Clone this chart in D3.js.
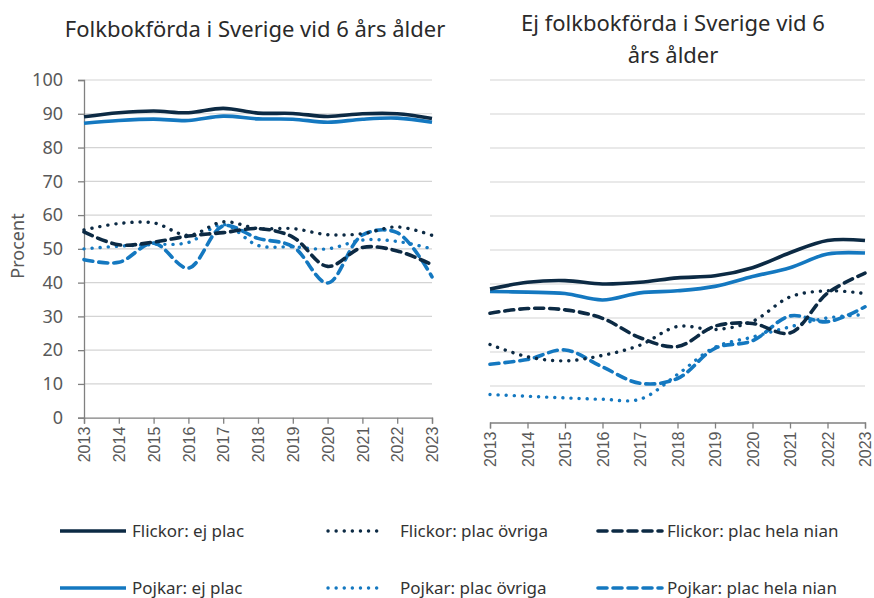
<!DOCTYPE html>
<html>
<head>
<meta charset="utf-8">
<script src="https://cdn.jsdelivr.net/npm/d3@7"></script>
<style>
  body { margin: 0; background: #fff; }
  text { font-family: "Noto Sans", "Open Sans", sans-serif; }
</style>
</head>
<body>
<div id="chart"></div>
<script>
// years on the x axis
var years = [2013, 2014, 2015, 2016, 2017, 2018, 2019, 2020, 2021, 2022, 2023];
var yTicks = [0, 10, 20, 30, 40, 50, 60, 70, 80, 90, 100];

// left panel: folkbokförda vid 6 års ålder
var leftFlickorEj   = [89.1, 90.3, 90.8, 90.3, 91.6, 90.2, 90.1, 89.2, 90.0, 90.0, 88.6];
var leftPojkarEj    = [87.2, 88.0, 88.4, 88.0, 89.3, 88.5, 88.4, 87.5, 88.4, 88.7, 87.5];
var leftFlickorOvr  = [55.6, 57.5, 57.7, 54.0, 58.0, 56.0, 56.0, 54.2, 54.5, 56.5, 54.0];
var leftFlickorHela = [55.0, 51.2, 52.0, 53.8, 54.8, 56.0, 53.5, 44.8, 50.4, 49.4, 45.3];
var leftPojkarOvr   = [50.0, 50.8, 51.3, 51.9, 57.2, 51.0, 50.6, 50.0, 52.6, 52.2, 50.0];
var leftPojkarHela  = [46.8, 46.0, 51.7, 44.3, 56.8, 53.1, 50.7, 39.9, 54.1, 54.8, 41.7];

// right panel: ej folkbokförda vid 6 års ålder
var rightFlickorEj   = [38.5, 40.5, 41.0, 40.0, 40.5, 41.8, 42.4, 44.8, 49.2, 52.8, 52.8];
var rightPojkarEj    = [37.8, 37.6, 37.2, 35.3, 37.4, 38.0, 39.3, 42.2, 44.8, 48.8, 49.1];
var rightFlickorOvr  = [22.2, 18.6, 17.4, 19.0, 22.0, 27.5, 26.6, 29.0, 36.2, 38.0, 37.2];
var rightFlickorHela = [31.4, 32.8, 32.4, 29.9, 24.2, 21.6, 27.6, 28.4, 25.6, 37.3, 43.2];
var rightPojkarOvr   = [7.5, 7.0, 6.5, 6.1, 6.1, 13.4, 21.4, 24.4, 27.4, 30.0, 31.0];
var rightPojkarHela  = [16.4, 17.8, 20.6, 15.6, 10.8, 12.2, 21.1, 23.3, 30.6, 28.9, 33.3];

var seriesNames = ["Flickor: ej plac", "Flickor: plac övriga", "Flickor: plac hela nian",
                   "Pojkar: ej plac", "Pojkar: plac övriga", "Pojkar: plac hela nian"];

var dark = "#0c2a44";
var blue = "#1478c0";
var styles = [
  { color: dark, dash: null, w: 3.6 },
  { color: dark, dash: "0.1 8", w: 3.4 },
  { color: dark, dash: "9 6", w: 3.6 },
  { color: blue, dash: null, w: 3.6 },
  { color: blue, dash: "0.1 8", w: 3.4 },
  { color: blue, dash: "9 6", w: 3.6 }
];

var svgWidth = 874, svgHeight = 598;
var svg = d3.select("#chart").append("svg")
  .attr("width", svgWidth)
  .attr("height", svgHeight);

var panels = [
  { x0: 84, x1: 432, y0: 417.7, y1: 80, axisY: 417.7, yAxis: true,
    data: [leftFlickorEj, leftFlickorOvr, leftFlickorHela, leftPojkarEj, leftPojkarOvr, leftPojkarHela] },
  { x0: 490, x1: 865, y0: 420, y1: 80, axisY: 422.5, yAxis: false,
    data: [rightFlickorEj, rightFlickorOvr, rightFlickorHela, rightPojkarEj, rightPojkarOvr, rightPojkarHela] }
];

panels.forEach(function(p) {
  var xscale = d3.scaleLinear().domain([2013, 2023]).range([p.x0, p.x1]);
  var yscale = d3.scaleLinear().domain([0, 100]).range([p.y0, p.y1]);
  var g = svg.append("g");

  // gridlines
  g.selectAll(".grid").data(yTicks.filter(d => d > 0)).enter()
    .append("line")
    .attr("x1", p.x0).attr("x2", p.x1)
    .attr("y1", d => yscale(d)).attr("y2", d => yscale(d))
    .attr("stroke", "#d4d4d4").attr("stroke-width", 1.2);

  // x axis
  var xAxis = d3.axisBottom(xscale).tickValues(years).tickFormat(d3.format("d")).tickSize(6);
  var xg = g.append("g").attr("transform", `translate(0, ${p.axisY})`).call(xAxis);
  xg.select(".domain").attr("stroke", "#808080").attr("stroke-width", 1.3);
  xg.selectAll(".tick line").attr("stroke", "#808080").attr("stroke-width", 1.3);
  xg.selectAll(".tick text")
    .attr("transform", "rotate(-90)")
    .attr("text-anchor", "end")
    .attr("x", -9).attr("y", 0).attr("dy", "0.35em")
    .style("font-family", "'Liberation Sans', Arial, sans-serif")
    .style("font-size", "16px")
    .attr("fill", "#595959");

  if (p.yAxis) {
    var yAxis = d3.axisLeft(yscale).tickValues(yTicks).tickSize(6);
    var yg = g.append("g").attr("transform", `translate(${p.x0}, 0)`).call(yAxis);
    yg.select(".domain").attr("stroke", "#808080").attr("stroke-width", 1.3);
    yg.selectAll(".tick line").attr("stroke", "#808080").attr("stroke-width", 1.3);
    yg.selectAll(".tick text")
      .attr("x", -21)
      .style("font-family", "'Noto Sans', sans-serif")
      .style("font-size", "18px")
      .attr("fill", "#595959");
  }

  var line = d3.line()
    .x((d, i) => xscale(years[i]))
    .y(d => yscale(d))
    .curve(d3.curveCatmullRom.alpha(0.5));

  // draw in an order so the solid lines sit on top
  [5, 4, 2, 1, 3, 0].forEach(function(k) {
    g.append("path")
      .attr("d", line(p.data[k]))
      .attr("fill", "none")
      .attr("stroke", styles[k].color)
      .attr("stroke-width", styles[k].w)
      .attr("stroke-linecap", styles[k].dash ? "round" : "butt")
      .attr("stroke-dasharray", styles[k].dash);
  });
});

// titles
svg.append("text").attr("x", 255).attr("y", 37)
  .attr("text-anchor", "middle").style("font-size", "22px").attr("fill", "#2a2a2a")
  .text("Folkbokförda i Sverige vid 6 års ålder");
svg.append("text").attr("x", 673).attr("y", 31)
  .attr("text-anchor", "middle").style("font-size", "22px").attr("fill", "#2a2a2a")
  .text("Ej folkbokförda i Sverige vid 6");
svg.append("text").attr("x", 673).attr("y", 63)
  .attr("text-anchor", "middle").style("font-size", "22px").attr("fill", "#2a2a2a")
  .text("års ålder");

// y axis label
svg.append("text")
  .attr("transform", "rotate(-90)")
  .attr("x", -246).attr("y", 24)
  .attr("text-anchor", "middle")
  .style("font-size", "18px").attr("fill", "#595959")
  .text("Procent");

// legend
var legendX = [60, 326, 596];
var legendTextX = [132, 400, 667];
var legendY = [531, 588];
seriesNames.forEach(function(name, i) {
  var col = i % 3, row = Math.floor(i / 3);
  var lg = svg.append("g");
  lg.append("line")
    .attr("x1", legendX[col] + (col == 0 ? 0 : 2)).attr("x2", legendX[col] + (col == 1 ? 56 : 66))
    .attr("y1", legendY[row]).attr("y2", legendY[row])
    .attr("stroke", styles[i].color)
    .attr("stroke-width", styles[i].w)
    .attr("stroke-linecap", styles[i].dash ? "round" : "butt")
    .attr("stroke-dasharray", styles[i].dash);
  lg.append("text")
    .attr("x", legendTextX[col]).attr("y", legendY[row]).attr("dy", "0.35em")
    .style("font-size", "17px").attr("fill", "#333")
    .text(name);
});
</script>
</body>
</html>
